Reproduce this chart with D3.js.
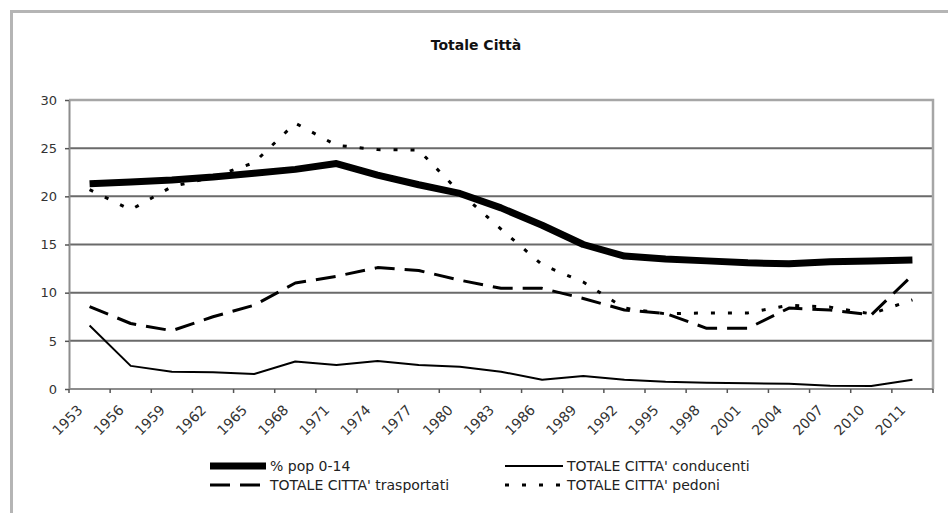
<!DOCTYPE html>
<html>
<head>
<meta charset="utf-8">
<script src="https://cdn.jsdelivr.net/npm/d3@7/dist/d3.min.js"></script>
<style>
  html, body { margin: 0; padding: 0; background: #fff; }
  svg { display: block; font-family: "DejaVu Sans", Verdana, sans-serif; }
</style>
</head>
<body>
<svg id="chart" width="948" height="513"></svg>
<script>
// Survey years (3-year steps, last one 2011)
const years = ["1953","1956","1959","1962","1965","1968","1971","1974","1977","1980",
               "1983","1986","1989","1992","1995","1998","2001","2004","2007","2010","2011"];

// Share of population aged 0-14 (%)
const pop014 = [21.3,21.5,21.7,22.0,22.4,22.8,23.4,22.2,21.2,20.3,
                18.8,17.0,15.0,13.8,13.5,13.3,13.1,13.0,13.2,13.3,13.4];
// City totals: drivers, passengers, pedestrians
const conducenti = [6.6,2.4,1.8,1.75,1.55,2.85,2.5,2.9,2.5,2.3,
                    1.8,0.95,1.35,0.95,0.75,0.65,0.6,0.55,0.35,0.3,0.95];
const trasportati = [8.55,6.8,6.05,7.5,8.7,11.0,11.7,12.6,12.3,11.3,
                     10.45,10.45,9.4,8.2,7.85,6.3,6.3,8.4,8.2,7.7,11.8];
const pedoni = [20.7,18.6,21.0,22.0,23.5,27.6,25.3,24.85,24.8,20.4,
                16.6,12.9,11.1,8.4,7.8,7.9,7.9,8.7,8.5,7.8,9.25];

const yTicks = [0,5,10,15,20,25,30];

const seriesNames = ["% pop 0-14", "TOTALE CITTA' conducenti",
                     "TOTALE CITTA' trasportati", "TOTALE CITTA' pedoni"];

const svg = d3.select("#chart");
svg.append("rect").attr("width", 948).attr("height", 513).attr("fill", "#fff");

// outer chart frame (runs off the right and bottom edges)
svg.append("path")
  .attr("d", "M11.5,513 L11.5,11.5 L948,11.5")
  .attr("fill", "none").attr("stroke", "#b5b5b5").attr("stroke-width", 3);

// title
svg.append("text")
  .attr("x", 476).attr("y", 50)
  .attr("text-anchor", "middle")
  .attr("font-size", 14).attr("font-weight", "bold").attr("fill", "#111")
  .text("Totale Città");

const plotLeft = 69, plotRight = 933, plotTop = 100, plotBottom = 389;
const x = d3.scaleBand().domain(years).range([plotLeft, plotRight]).paddingInner(0).paddingOuter(0);
const y = d3.scaleLinear().domain([0, 30]).range([plotBottom, plotTop]);
const cx = d => x(d) + x.bandwidth() / 2;

// horizontal gridlines
svg.append("g").selectAll("line")
  .data(yTicks.filter(t => t > 0 && t < 30))
  .join("line")
  .attr("x1", plotLeft).attr("x2", plotRight)
  .attr("y1", d => y(d)).attr("y2", d => y(d))
  .attr("stroke", "#6a6a6a").attr("stroke-width", 2);

// plot area border (top and right)
svg.append("path")
  .attr("d", `M${plotLeft},${y(30)} L${plotRight},${y(30)} L${plotRight},${plotBottom}`)
  .attr("fill", "none").attr("stroke", "#a6a6a6").attr("stroke-width", 2.5);

// y axis
const yAxis = svg.append("g").attr("transform", `translate(${plotLeft},0)`)
  .call(d3.axisLeft(y).tickValues(yTicks).tickSize(4).tickSizeOuter(0));
yAxis.select(".domain").attr("stroke", "#8c8c8c").attr("stroke-width", 2);
yAxis.selectAll(".tick line").attr("stroke", "#555").attr("stroke-width", 1.5);
yAxis.selectAll(".tick text")
  .attr("x", -12).attr("font-size", 13).attr("fill", "#333")
  .attr("font-family", "DejaVu Sans, Verdana, sans-serif");

// x axis: tick marks sit between categories, labels at each category
svg.append("line")
  .attr("x1", plotLeft).attr("x2", plotRight).attr("y1", plotBottom).attr("y2", plotBottom)
  .attr("stroke", "#8c8c8c").attr("stroke-width", 2);
const boundaries = years.map(d => x(d)).concat([x(years[years.length - 1]) + x.bandwidth()]);
svg.append("g").selectAll("line")
  .data(boundaries)
  .join("line")
  .attr("x1", d => d).attr("x2", d => d)
  .attr("y1", plotBottom).attr("y2", plotBottom + 4)
  .attr("stroke", "#555").attr("stroke-width", 1.5);
svg.append("g").selectAll("text")
  .data(years)
  .join("text")
  .attr("transform", d => `translate(${cx(d) - 6},${plotBottom + 22}) rotate(-45)`)
  .attr("text-anchor", "end")
  .attr("font-size", 14).attr("fill", "#333")
  .text(d => d);

// series lines
const line = d3.line().x(d => cx(d[0])).y(d => y(d[1]));
const styles = [
  { data: pop014,      width: 7,   dash: null },
  { data: conducenti,  width: 2,   dash: null },
  { data: trasportati, width: 3,   dash: "20,10" },
  { data: pedoni,      width: 3,   dash: "4,13" }
];
const plot = svg.append("g");
styles.forEach(s => {
  plot.append("path")
    .datum(years.map((yr, i) => [yr, s.data[i]]))
    .attr("d", line)
    .attr("fill", "none")
    .attr("stroke", "#000")
    .attr("stroke-width", s.width)
    .attr("stroke-linejoin", "round")
    .attr("stroke-dasharray", s.dash);
});

// legend
const legendItems = [
  { name: seriesNames[0], style: styles[0], sx: 210, tx: 270, ly: 466 },
  { name: seriesNames[1], style: styles[1], sx: 505, tx: 567, ly: 466 },
  { name: seriesNames[2], style: styles[2], sx: 210, tx: 270, ly: 485 },
  { name: seriesNames[3], style: styles[3], sx: 505, tx: 567, ly: 485 }
];
const lg = svg.append("g");
legendItems.forEach(it => {
  lg.append("line")
    .attr("x1", it.sx).attr("x2", it.tx - 4)
    .attr("y1", it.ly).attr("y2", it.ly)
    .attr("stroke", "#000").attr("stroke-width", it.style.width)
    .attr("stroke-dasharray", it.style.dash);
  lg.append("text")
    .attr("x", it.tx).attr("y", it.ly).attr("dy", "0.35em")
    .attr("font-size", 14).attr("fill", "#222")
    .text(it.name);
});
</script>
</body>
</html>
